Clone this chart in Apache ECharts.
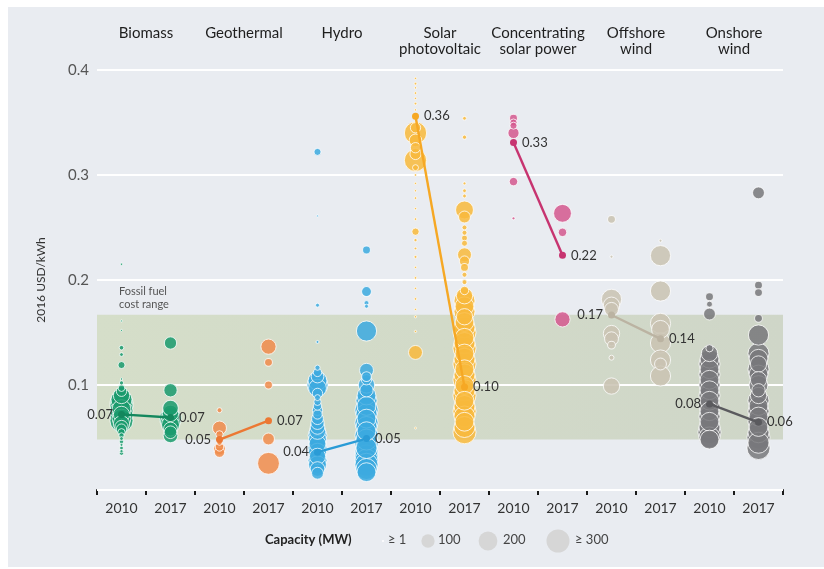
<!DOCTYPE html>
<html>
<head>
<meta charset="utf-8">
<script src="https://cdn.jsdelivr.net/npm/echarts@6/dist/echarts.min.js"></script>
<style>
  html, body { margin: 0; padding: 0; background: #ffffff; }
  #chart { position: absolute; left: 8px; top: 7px; width: 816px; height: 560px; background: #e9ecf1; }
</style>
</head>
<body>
<div id="chart"></div>
<script>
// ---------- DATA ----------
const years = ['2010','2017','2010','2017','2010','2017','2010','2017','2010','2017','2010','2017','2010','2017'];
const technologies = ['Biomass','Geothermal','Hydro','Solar\nphotovoltaic','Concentrating\nsolar power','Offshore\nwind','Onshore\nwind'];
const yTicks = [0.1, 0.2, 0.3, 0.4];
const fossilRange = [0.048, 0.167];

// [LCOE (USD/kWh), capacity (MW)]
const biomass2010 = [[0.215,3],[0.161,1],[0.152,1],[0.1355,12],[0.129,8],[0.119,28],[0.1057,3],[0.102,10],[0.097,25],[0.094,60],[0.090,150],[0.086,250],[0.083,300],[0.080,300],[0.077,200],[0.075,300],[0.072,150],[0.070,300],[0.068,200],[0.066,300],[0.063,150],[0.060,100],[0.058,60],[0.055,30],[0.052,15],[0.049,8],[0.046,10],[0.043,5],[0.040,8],[0.037,6],[0.035,10]];
const biomass2017 = [[0.140,85],[0.095,100],[0.078,140],[0.073,150],[0.070,180],[0.068,270],[0.065,220],[0.062,180],[0.058,110],[0.055,90],[0.052,120]];
const geothermal2010 = [[0.076,14],[0.059,110],[0.053,30],[0.045,15],[0.041,40],[0.039,80],[0.036,60]];
const geothermal2017 = [[0.1365,130],[0.1216,35],[0.100,35],[0.0486,80],[0.0254,270]];
const hydro2010 = [[0.322,28],[0.261,1],[0.176,9],[0.141,5],[0.1165,15],[0.112,40],[0.108,90],[0.104,200],[0.100,250],[0.097,180],[0.092,60],[0.088,20],[0.084,30],[0.080,40],[0.076,60],[0.072,50],[0.068,80],[0.064,100],[0.060,120],[0.056,150],[0.052,200],[0.048,180],[0.044,160],[0.040,200],[0.036,180],[0.032,150],[0.028,200],[0.024,180],[0.020,120],[0.016,80]];
const hydro2017 = [[0.2286,35],[0.189,55],[0.178,14],[0.175,9],[0.1514,230],[0.114,110],[0.108,55],[0.105,60],[0.100,150],[0.095,100],[0.090,200],[0.085,250],[0.080,200],[0.076,300],[0.072,250],[0.068,200],[0.064,300],[0.060,250],[0.056,200],[0.052,300],[0.048,250],[0.044,300],[0.040,250],[0.036,300],[0.032,300],[0.028,300],[0.024,300],[0.020,250],[0.017,200]];
const solarPV2010 = [[0.392,3],[0.387,4],[0.383,3],[0.378,4],[0.373,3],[0.368,4],[0.362,3],[0.345,60],[0.340,280],[0.333,90],[0.326,60],[0.320,70],[0.314,280],[0.307,20],[0.300,4],[0.292,3],[0.285,3],[0.278,4],[0.268,3],[0.258,4],[0.246,30],[0.238,6],[0.230,4],[0.222,5],[0.212,3],[0.202,4],[0.192,3],[0.182,4],[0.172,3],[0.165,3],[0.151,3],[0.131,110],[0.059,2]];
const solarPV2017 = [[0.354,8],[0.336,10],[0.292,5],[0.285,8],[0.280,8],[0.2667,180],[0.260,80],[0.250,14],[0.245,14],[0.240,20],[0.235,20],[0.224,110],[0.218,60],[0.212,35],[0.205,14],[0.198,14],[0.190,40],[0.185,150],[0.180,250],[0.175,200],[0.170,250],[0.165,150],[0.160,200],[0.155,250],[0.150,300],[0.145,200],[0.140,250],[0.135,300],[0.130,200],[0.125,250],[0.120,300],[0.115,200],[0.110,250],[0.105,300],[0.100,200],[0.095,250],[0.090,300],[0.085,200],[0.080,250],[0.075,300],[0.070,250],[0.065,200],[0.060,250],[0.055,300]];
const csp2010 = [[0.354,35],[0.350,28],[0.347,28],[0.340,70],[0.2937,40],[0.2587,5]];
const csp2017 = [[0.2635,180],[0.2454,40],[0.1625,130]];
const offshore2010 = [[0.2578,35],[0.2222,5],[0.1816,230],[0.176,150],[0.172,110],[0.149,150],[0.144,110],[0.138,35],[0.126,14],[0.099,150]];
const offshore2017 = [[0.2374,5],[0.2232,230],[0.1895,230],[0.1587,230],[0.153,180],[0.140,230],[0.1238,230],[0.120,80],[0.1086,230]];
const onshore2010 = [[0.184,35],[0.177,20],[0.1676,80],[0.135,30],[0.130,150],[0.125,200],[0.120,250],[0.115,200],[0.110,250],[0.105,200],[0.100,250],[0.095,200],[0.090,250],[0.085,200],[0.080,250],[0.075,200],[0.070,250],[0.065,200],[0.060,250],[0.055,300],[0.050,250],[0.048,200]];
const onshore2017 = [[0.283,80],[0.195,35],[0.188,35],[0.1635,35],[0.1476,230],[0.130,250],[0.125,200],[0.120,150],[0.115,250],[0.110,200],[0.105,150],[0.100,200],[0.095,100],[0.090,150],[0.085,250],[0.080,200],[0.075,250],[0.070,200],[0.065,250],[0.060,200],[0.055,250],[0.050,300],[0.045,250],[0.040,300]];

// capacity-weighted averages [2010, 2017]
const weightedAvg = [[0.072,0.069],[0.048,0.066],[0.036,0.049],[0.356,0.098],[0.331,0.2235],[0.1667,0.144],[0.082,0.0645]];
const legendCaps = [1, 100, 200, 300];
const legendLabels = ['≥ 1', '100', '200', '≥ 300'];

// ---------- STYLE ----------
const projects = [
  [biomass2010, biomass2017], [geothermal2010, geothermal2017], [hydro2010, hydro2017],
  [solarPV2010, solarPV2017], [csp2010, csp2017], [offshore2010, offshore2017], [onshore2010, onshore2017]
];
const bubbleColors = ['#1b9b6e','#f08c4c','#3daae0','#f8b93c','#d4588f','#c9c2b2','#78787c'];
const lineColors   = ['#13875d','#ec7833','#2a9bd6','#f6a824','#c73470','#bbb3a2','#5a5a5e'];
const leftLabel2010 = [true, true, true, false, false, true, true];

const size = cap => Math.max(2, 1.33 * Math.sqrt(Math.min(cap, 300)));

const series = [];
// fossil fuel band
series.push({
  type: 'scatter', data: [], silent: true,
  markArea: {
    silent: true,
    itemStyle: { color: new echarts.graphic.LinearGradient(0, 0, 1, 0, [
      { offset: 0, color: '#d5dec9' }, { offset: 1, color: '#cfd6c8' }]) },
    label: { show: true, position: [22, -30], color: '#555', fontSize: 11, lineHeight: 13,
             fontFamily: 'Lato', align: 'left', verticalAlign: 'top' },
    data: [[{ yAxis: fossilRange[0], name: 'Fossil fuel\ncost range' }, { yAxis: fossilRange[1] }]]
  }
});

projects.forEach((pair, i) => {
  const data = [];
  pair.forEach((arr, k) => arr.forEach(d => data.push([2 * i + k, d[0], d[1]])));
  data.sort((a, b) => b[2] - a[2]);
  series.push({
    type: 'scatter', z: 3, data,
    symbolSize: v => size(v[2]),
    itemStyle: { color: bubbleColors[i], opacity: 0.86, borderColor: 'rgba(255,255,255,0.9)', borderWidth: 1 }
  });
});

weightedAvg.forEach((w, i) => {
  series.push({
    type: 'line', z: 4,
    symbol: 'circle', symbolSize: 7,
    lineStyle: { color: lineColors[i], width: 2.4 },
    itemStyle: { color: lineColors[i] },
    label: { show: true, color: '#333', fontSize: 13, fontFamily: 'Lato', distance: 5,
             formatter: p => p.value[1].toFixed(2) },
    data: [
      { value: [2 * i, w[0]], label: { position: leftLabel2010[i] ? 'left' : 'right' } },
      { value: [2 * i + 1, w[1]], label: { position: 'right' } }
    ]
  });
});

// legend graphics
const legendG = [{
  type: 'text', left: 257, top: 526,
  style: { text: 'Capacity (MW)', fontSize: 13, fontWeight: 'bold', fill: '#222', fontFamily: 'Lato' }
}];
const legendX = [375, 420, 480, 550];
const textX = [380, 430, 495, 567];
legendCaps.forEach((c, j) => {
  const r = size(c) / 2;
  legendG.push({ type: 'circle', shape: { cx: legendX[j], cy: 534, r: r },
                 style: { fill: j === 0 ? '#ffffff' : '#d6d6d6' } });
  legendG.push({ type: 'text', left: textX[j], top: 526,
                 style: { text: legendLabels[j], fontSize: 13, fill: '#444', fontFamily: 'Lato' } });
});

const chart = echarts.init(document.getElementById('chart'));
chart.setOption({
  animation: false,
  backgroundColor: '#e9ecf1',
  grid: { left: 89, right: 41, top: 63, bottom: 77 },
  xAxis: [{
    type: 'category', data: years, position: 'bottom',
    axisLine: { lineStyle: { color: '#1a1a1a', width: 2 } },
    axisTick: { show: true, length: 5, lineStyle: { color: '#1a1a1a', width: 2 } },
    axisLabel: { color: '#333', fontSize: 14, margin: 11, fontFamily: 'Lato', interval: 0 },
    splitLine: { show: false }
  }, {
    type: 'category', data: technologies, position: 'top', gridIndex: 0,
    axisLine: { show: false }, axisTick: { show: false },
    axisLabel: { color: '#1e1e1e', fontSize: 15, lineHeight: 16, margin: 45, interval: 0,
                 verticalAlign: 'top', fontFamily: 'Lato' }
  }],
  yAxis: {
    type: 'value', min: 0, max: 0.4, interval: 0.1, z: 1.5,
    name: '2016 USD/kWh', nameLocation: 'middle', nameGap: 50, nameRotate: 90,
    nameTextStyle: { color: '#333', fontSize: 12, fontFamily: 'Lato' },
    axisLine: { show: false }, axisTick: { show: false },
    axisLabel: { color: '#555', fontSize: 15, margin: 8, fontFamily: 'Lato',
                 formatter: v => (yTicks.some(t => Math.abs(t - v) < 1e-9) ? String(+v.toFixed(1)) : '') },
    splitLine: { lineStyle: { color: '#ffffff', width: 2 } }
  },
  graphic: legendG,
  series
});
</script>
</body>
</html>
